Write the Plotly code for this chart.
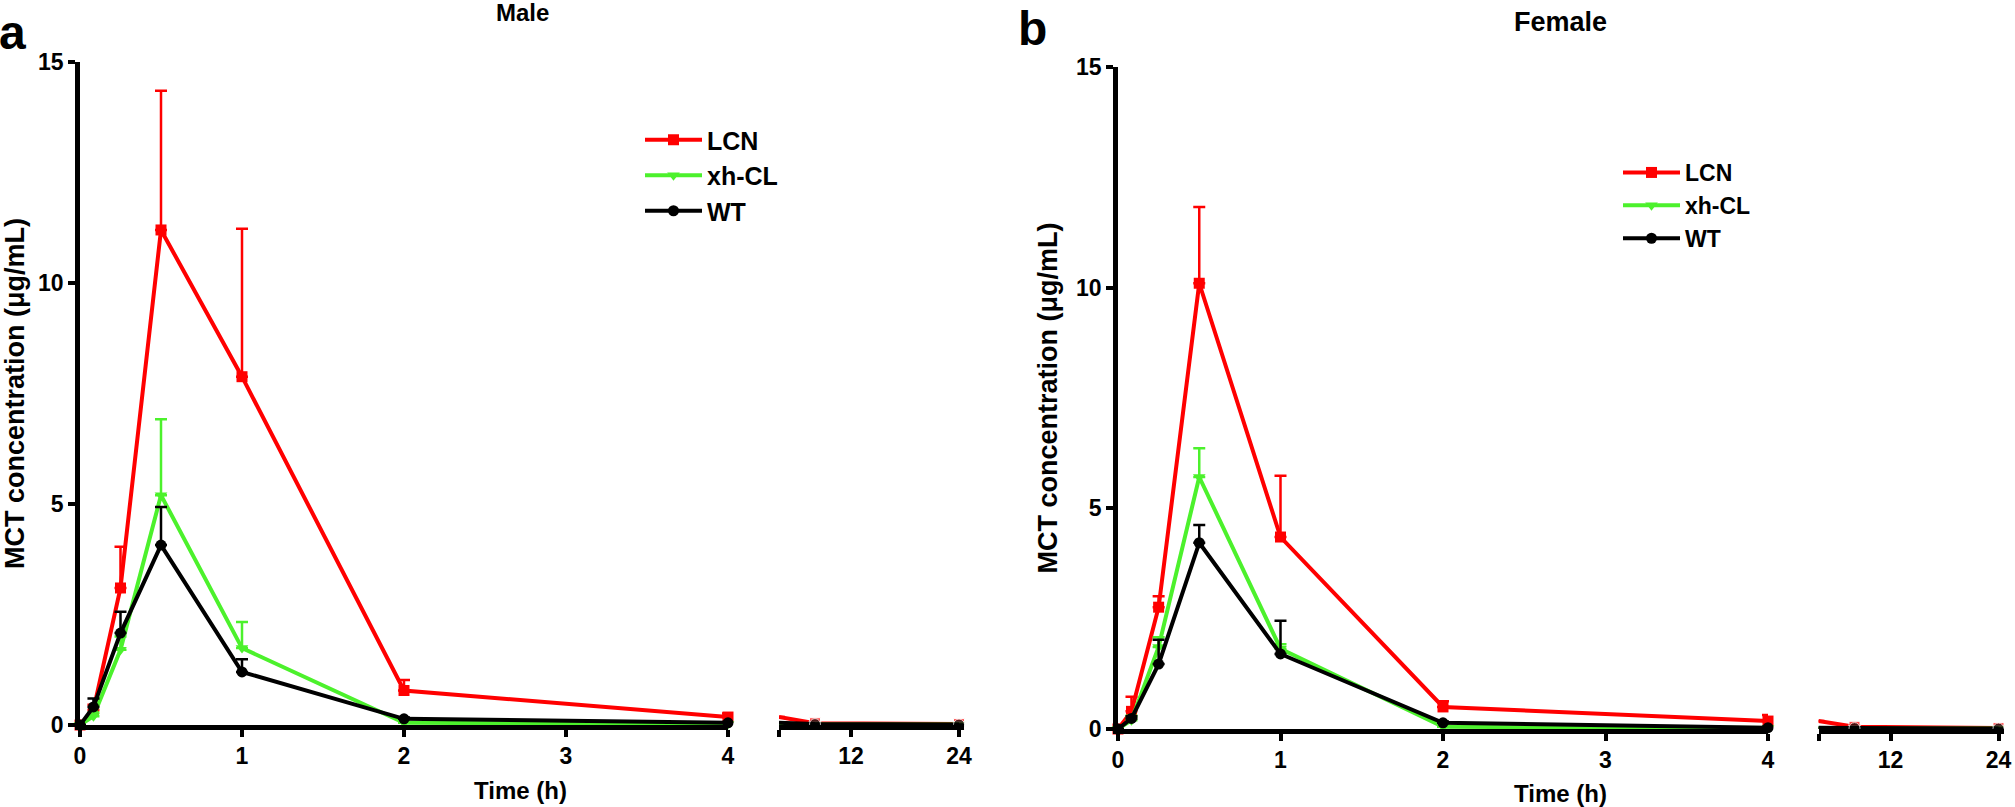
#!/usr/bin/env python3
# MCT plasma concentration vs time, male / female, split x axis (0-4 h | 4-24 h)

import plotly.graph_objects as go

W, H = 2015, 807
FONT = "Liberation Sans"

times = [0, 0.083, 0.25, 0.5, 1, 2, 4, 8, 24]
groups = ["LCN", "xh-CL", "WT"]
colors = {"LCN": "#ff0000", "xh-CL": "#4cf12c", "WT": "#000000"}
symbols = {"LCN": "square", "xh-CL": "triangle-down", "WT": "circle"}

# male (panel a): mean and +SD
lcn_m = [0, 0.34, 3.1, 11.2, 7.88, 0.78, 0.18, 0.04, 0.02]
lcn_m_sd = [0, 0.12, 0.93, 3.15, 3.35, 0.24, 0.08, 0.01, 0.01]
xh_m = [0, 0.2, 1.7, 5.2, 1.74, 0.05, 0.02, 0.01, 0.01]
xh_m_sd = [0, 0.08, 0.3, 1.72, 0.59, 0.02, 0.01, 0, 0]
wt_m = [0, 0.41, 2.08, 4.07, 1.2, 0.14, 0.05, 0.02, 0.01]
wt_m_sd = [0, 0.19, 0.48, 0.86, 0.29, 0.03, 0.02, 0, 0]

# female (panel b)
lcn_f = [0, 0.4, 2.76, 10.1, 4.35, 0.5, 0.18, 0.05, 0.02]
lcn_f_sd = [0, 0.33, 0.25, 1.73, 1.39, 0.13, 0.14, 0.02, 0.01]
xh_f = [0, 0.2, 1.86, 5.71, 1.82, 0.05, 0.02, 0.01, 0.01]
xh_f_sd = [0, 0.1, 0.22, 0.65, 0.1, 0.02, 0.01, 0, 0]
wt_f = [0, 0.24, 1.47, 4.22, 1.7, 0.14, 0.03, 0.02, 0.01]
wt_f_sd = [0, 0.05, 0.55, 0.4, 0.75, 0.03, 0.02, 0, 0]

y_ticks = [0, 5, 10, 15]
early_ticks = [0, 1, 2, 3, 4]
late_ticks = [4, 12, 24]
late_labels = ["", "12", "24"]


# screen pixel -> paper fraction
def px_x(p):
    return p / W


def px_y(p):
    return (H - p) / H


fig = go.Figure()

panels = [
    # name, data, axis ids, x px (0h, 4h, late start, late end), y px (0, 15), legend
    ("a", {"LCN": (lcn_m, lcn_m_sd), "xh-CL": (xh_m, xh_m_sd), "WT": (wt_m, wt_m_sd)},
     ("x", "x2", "y"), (80, 728, 779, 964), (725, 62), "legend"),
    ("b", {"LCN": (lcn_f, lcn_f_sd), "xh-CL": (xh_f, xh_f_sd), "WT": (wt_f, wt_f_sd)},
     ("x3", "x4", "y2"), (1118, 1768, 1818.5, 2004), (729, 67), "legend2"),
]

n_early = times.index(4) + 1

for name, data, (xa, xb, ya), xp, yp, leg in panels:
    for g in groups:
        vals, sd = data[g]
        style = dict(
            line=dict(color=colors[g], width=4),
            cliponaxis=False,
        )
        # 0 - 4 h segment
        fig.add_trace(go.Scatter(
            x=times[:n_early], y=vals[:n_early], name=g, mode="lines+markers",
            marker=dict(symbol=symbols[g], size=11, color=colors[g]),
            error_y=dict(type="data", symmetric=False, array=sd[:n_early],
                         arrayminus=[0] * n_early, color=colors[g],
                         thickness=2.5, width=6),
            xaxis=xa, yaxis=ya, legend=leg, legendgroup=g, **style))
        # 4 - 24 h segment, the 4 h point only carries the line
        late_sd = sd[n_early - 1:]
        late_sd = [0] + late_sd[1:]
        fig.add_trace(go.Scatter(
            x=times[n_early - 1:], y=vals[n_early - 1:], name=g, mode="lines+markers",
            marker=dict(symbol=symbols[g], size=[0, 11, 11], color=colors[g]),
            error_y=dict(type="data", symmetric=False, array=late_sd,
                         arrayminus=[0] * len(late_sd), color=colors[g],
                         thickness=2.5, width=6),
            xaxis=xb, yaxis=ya, showlegend=False, **style))

axis_common = dict(
    showline=True, linecolor="black", linewidth=4.5,
    ticks="outside", ticklen=7, tickwidth=4, tickcolor="black",
    showgrid=False, zeroline=False, automargin=False, ticklabeloverflow="allow",
    tickfont=dict(family=FONT, size=23, color="black", weight="bold"),
)

layout_axes = {}
for name, data, (xa, xb, ya), xp, yp, leg in panels:
    x0, x4, l0, l1 = xp
    y0, y15 = yp
    ka = "xaxis" + xa[1:]
    kb = "xaxis" + xb[1:]
    ky = "yaxis" + ya[1:]
    layout_axes[ka] = dict(axis_common, domain=[px_x(x0), px_x(x4)], range=[0, 4],
                           tickvals=early_ticks, anchor=ya)
    late_end = 4 + (l1 - l0) / 9.0
    layout_axes[kb] = dict(axis_common, domain=[px_x(l0), px_x(l1)], range=[4, late_end],
                           tickvals=late_ticks, ticktext=late_labels, anchor=ya)
    layout_axes[ky] = dict(axis_common, domain=[px_y(y0), px_y(y15)], range=[0, 15],
                           tickvals=y_ticks, anchor=xa,
                           title=dict(text="MCT concentration (μg/mL)", standoff=12,
                                      font=dict(family=FONT, size=27, color="black",
                                                weight="bold")))

fig.update_layout(**layout_axes)

legend_style = dict(
    bgcolor="rgba(0,0,0,0)", itemwidth=57, tracegroupgap=0,
    xanchor="left", yanchor="top", traceorder="grouped",
)

annotations = [
    dict(text="a", x=px_x(-3), y=px_y(4), xanchor="left", yanchor="top",
         font=dict(size=48)),
    dict(text="b", x=px_x(1016), y=px_y(0), xanchor="left", yanchor="top",
         font=dict(size=48)),
    dict(text="Male", x=px_x(522), y=px_y(13), xanchor="center", yanchor="middle",
         font=dict(size=24)),
    dict(text="Female", x=px_x(1560), y=px_y(22), xanchor="center", yanchor="middle",
         font=dict(size=27)),
    dict(text="Time (h)", x=px_x(520), y=px_y(790), xanchor="center", yanchor="middle",
         font=dict(size=24)),
    dict(text="Time (h)", x=px_x(1560), y=px_y(793), xanchor="center", yanchor="middle",
         font=dict(size=24)),
]
for a in annotations:
    a["xref"] = "paper"
    a["yref"] = "paper"
    a["showarrow"] = False
    a["font"].update(family=FONT, color="black", weight="bold")

fig.update_layout(
    width=W, height=H,
    margin=dict(l=0, r=0, t=0, b=0),
    paper_bgcolor="white", plot_bgcolor="white",
    showlegend=True,
    legend=dict(legend_style, x=px_x(640), y=px_y(117),
                font=dict(family=FONT, size=25, color="black", weight="bold")),
    legend2=dict(legend_style, x=px_x(1618), y=px_y(151),
                 font=dict(family=FONT, size=23, color="black", weight="bold")),
    annotations=annotations,
)

# drop the default page margin so the figure sits flush in the window
fig.write_html("out.html", config={"displayModeBar": False},
               post_script="document.body.style.margin = '0';")
